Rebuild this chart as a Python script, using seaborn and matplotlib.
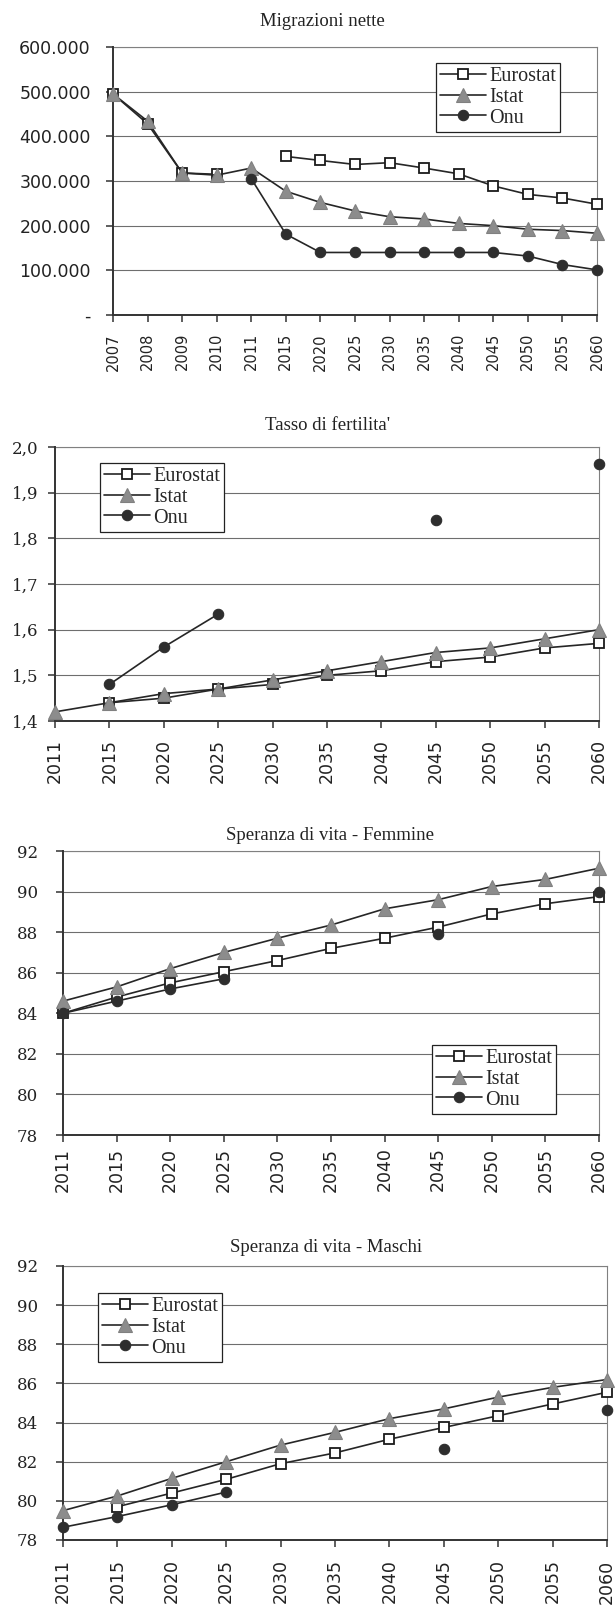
import numpy as np
import seaborn as sns
import matplotlib
matplotlib.use("Agg")
from matplotlib import pyplot as plt
from matplotlib.lines import Line2D
from matplotlib.ticker import FuncFormatter

sns.set_style("white")
plt.rcParams["font.family"] = ["DejaVu Sans"]

nan = np.nan

# --- data ---
mig_years = ["2007", "2008", "2009", "2010", "2011", "2015", "2020", "2025",
             "2030", "2035", "2040", "2045", "2050", "2055", "2060"]
mig_eurostat = [495000, 428000, 318000, 315000, nan, 355000, 346000, 337000,
                341000, 329000, 316000, 289000, 270000, 262000, 248000]
mig_istat = [495000, 434000, 318000, 313000, 329000, 277000, 252000, 233000,
             220000, 215000, 205000, 200000, 192000, 189000, 183000]
mig_onu = [nan, nan, nan, nan, 305000, 181000, 140000, 140000,
           140000, 140000, 140000, 140000, 132000, 113000, 101000]

proj_years = ["2011", "2015", "2020", "2025", "2030", "2035", "2040",
              "2045", "2050", "2055", "2060"]

fert_eurostat = [nan, 1.44, 1.45, 1.47, 1.48, 1.50, 1.51, 1.53, 1.54, 1.56, 1.57]
fert_istat = [1.42, 1.44, 1.46, 1.47, 1.49, 1.51, 1.53, 1.55, 1.56, 1.58, 1.60]
fert_onu = [nan, 1.48, 1.562, 1.634, nan, nan, nan, 1.84, nan, nan, 1.962]

fem_eurostat = [84.0, 84.8, 85.5, 86.05, 86.6, 87.2, 87.7, 88.25, 88.9, 89.4, 89.75]
fem_istat = [84.6, 85.3, 86.2, 87.0, 87.7, 88.35, 89.15, 89.6, 90.25, 90.6, 91.15]
fem_onu = [84.0, 84.6, 85.2, 85.7, nan, nan, nan, 87.9, nan, nan, 89.97]

mas_eurostat = [nan, 79.7, 80.4, 81.1, 81.9, 82.45, 83.15, 83.75, 84.35, 84.95, 85.55]
mas_istat = [79.5, 80.25, 81.15, 82.0, 82.85, 83.5, 84.2, 84.7, 85.3, 85.8, 86.2]
mas_onu = [78.65, 79.2, 79.8, 80.45, nan, nan, nan, 82.65, nan, nan, 84.65]

series_names = ["Eurostat", "Istat", "Onu"]

FW, FH = 616, 1612
fig = plt.figure(figsize=(FW / 100, FH / 100), dpi=100)

LINE = "#262626"
styles = {
    "Eurostat": dict(marker="s", markersize=7.5, markerfacecolor="white",
                     markeredgecolor="#1a1a1a", markeredgewidth=1.3),
    "Istat": dict(marker="^", markersize=9.5, markerfacecolor="#8c8c8c",
                  markeredgecolor="#808080", markeredgewidth=0.8),
    "Onu": dict(marker="o", markersize=7.5, markerfacecolor="#2e2e2e",
                markeredgecolor="#2e2e2e", markeredgewidth=0.8),
}


def add_ax(left, right, top, bottom):
    return fig.add_axes([left / FW, 1 - bottom / FH,
                         (right - left) / FW, (bottom - top) / FH])


def draw_series(ax, vals, name, z):
    # split on gaps so missing years are not joined
    idx = []
    for i, v in enumerate(vals):
        if np.isnan(v):
            if idx:
                sns.lineplot(x=idx, y=[vals[j] for j in idx], ax=ax, color=LINE,
                             linewidth=1.2, clip_on=False, zorder=z, **styles[name])
            idx = []
        else:
            idx.append(i)
    if idx:
        sns.lineplot(x=idx, y=[vals[j] for j in idx], ax=ax, color=LINE,
                     linewidth=1.2, clip_on=False, zorder=z, **styles[name])


def style_ax(ax, years, ymin, ymax, step, fmt, yfont, ysize, ypad, xsize, xpad):
    ax.set_xlim(0, len(years) - 1)
    ax.set_ylim(ymin, ymax)
    ax.set_xticks(range(len(years)))
    ax.set_xticklabels(years, rotation=90, fontsize=xsize, family="DejaVu Sans",
                       color="#222222")
    ax.set_yticks(np.arange(ymin, ymax + step / 2, step))
    ax.yaxis.set_major_formatter(FuncFormatter(fmt))
    for lab in ax.get_yticklabels():
        lab.set_family(yfont)
        lab.set_fontsize(ysize)
        lab.set_color("#222222")
    ax.tick_params(axis="y", direction="out", length=5, width=1.1, color="#333333",
                   pad=ypad, left=True)
    ax.tick_params(axis="x", direction="out", length=5, width=1.1, color="#333333",
                   pad=xpad, bottom=True)
    ax.grid(axis="y", color="#6e6e6e", linewidth=0.8)
    ax.grid(axis="x", visible=False)
    ax.set_axisbelow(True)
    for s in ["left", "bottom"]:
        ax.spines[s].set_color("#333333")
        ax.spines[s].set_linewidth(1.4)
        ax.spines[s].set_zorder(3)
    for s in ["top", "right"]:
        ax.spines[s].set_color("#808080")
        ax.spines[s].set_linewidth(0.8)
    ax.set_xlabel("")
    ax.set_ylabel("")


def add_legend(ax, x, y):
    handles = [Line2D([0], [0], color=LINE, linewidth=1.2, **styles[n]) for n in series_names]
    leg = ax.legend(handles, series_names, loc="upper left",
                    bbox_to_anchor=(x / FW, 1 - y / FH), bbox_transform=fig.transFigure,
                    borderaxespad=0, frameon=True, fancybox=False, framealpha=1,
                    edgecolor="#222222", prop={"family": "Liberation Serif", "size": 14.5},
                    handlelength=2.3, handletextpad=0.15, labelspacing=0.08,
                    borderpad=0.2, numpoints=1)
    leg.get_frame().set_linewidth(0.9)
    leg.set_zorder(10)


def title(text, x, y):
    fig.text(x / FW, 1 - y / FH, text, ha="center", va="center",
             family="Liberation Serif", fontsize=13.5, color="#222222")


def mig_fmt(v, pos):
    if v == 0:
        return "-"
    return f"{int(round(v)):,}".replace(",", ".")


def comma_fmt(v, pos):
    return f"{v:.1f}".replace(".", ",")


def int_fmt(v, pos):
    return f"{int(round(v))}"


# 1) Migrazioni nette
ax1 = add_ax(113, 597, 47, 315)
for n, vals, z in zip(series_names, [mig_eurostat, mig_istat, mig_onu], [4, 5, 6]):
    draw_series(ax1, vals, n, z)
style_ax(ax1, mig_years, 0, 600000, 100000, mig_fmt, "DejaVu Sans", 12.5, 11, 10.5, 8)
add_legend(ax1, 436, 63)
title("Migrazioni nette", 322, 21)

# 2) Tasso di fertilita'
ax2 = add_ax(55, 599, 447, 721)
for n, vals, z in zip(series_names, [fert_eurostat, fert_istat, fert_onu], [4, 5, 6]):
    draw_series(ax2, vals, n, z)
style_ax(ax2, proj_years, 1.4, 2.0, 0.1, comma_fmt, "DejaVu Serif", 12, 7, 12.5, 8)
add_legend(ax2, 100, 463)
title("Tasso di fertilita'", 328, 425)

# 3) Speranza di vita - Femmine
ax3 = add_ax(63, 599, 851, 1135)
for n, vals, z in zip(series_names, [fem_eurostat, fem_istat, fem_onu], [4, 5, 6]):
    draw_series(ax3, vals, n, z)
style_ax(ax3, proj_years, 78, 92, 2, int_fmt, "DejaVu Serif", 12, 13, 12.5, 4)
add_legend(ax3, 432, 1045)
title("Speranza di vita - Femmine", 330, 835)

# 4) Speranza di vita - Maschi
ax4 = add_ax(63, 607, 1266, 1540)
for n, vals, z in zip(series_names, [mas_eurostat, mas_istat, mas_onu], [4, 5, 6]):
    draw_series(ax4, vals, n, z)
style_ax(ax4, proj_years, 78, 92, 2, int_fmt, "DejaVu Serif", 12, 13, 12.5, 9)
add_legend(ax4, 98, 1293)
title("Speranza di vita - Maschi", 326, 1247)

fig.savefig("out.png", dpi=100)
